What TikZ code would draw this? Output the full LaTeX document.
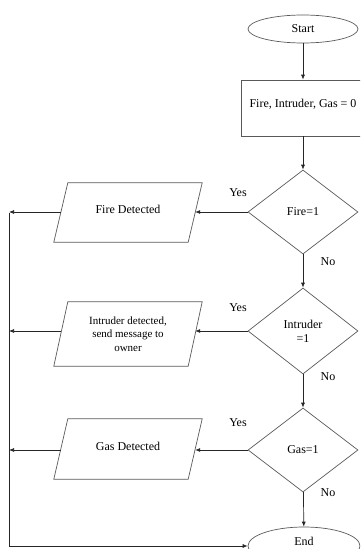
\documentclass[tikz,border=0pt]{standalone}
\usepackage{fontspec}
\setmainfont{Liberation Serif}
\usetikzlibrary{shapes.geometric,arrows.meta,calc}
\begin{document}
\begin{tikzpicture}[x=1pt,y=-1pt,
  font=\fontsize{12}{14}\selectfont,
  shp/.style={draw=black!65,line width=0.7pt},
  term/.style={shp,ellipse,inner sep=0pt},
  dec/.style={shp,diamond,inner sep=0pt,minimum width=110pt,minimum height=84pt,shape aspect=1.31,align=center},
  proc/.style={shp,rectangle,inner sep=0pt},
  io/.style={rectangle,inner sep=0pt,minimum width=134pt,align=center},
  arr/.style={draw=black!85,line width=0.7pt,-{Latex[length=5pt,width=4pt]}},
  lbl/.style={inner sep=0pt}]
\useasboundingbox (0,0) rectangle (360,549);
\clip (0,0) rectangle (360,549);

\node[term,minimum width=110pt,minimum height=28pt] (start) at (303,29) {Start};
\node[proc,minimum width=124pt,minimum height=56pt,text depth=10pt] (init) at (303,108) {Fire, Intruder, Gas = 0};
\node[dec] (fire) at (303,212) {Fire=1};
\node[dec,minimum height=86pt] (intr) at (303,331) {Intruder\\=1};
\node[dec] (gas) at (303,450) {Gas=1};
\node[term,minimum width=112pt,minimum height=38pt,text depth=9pt] (end) at (304,546) {End};

\node[io,minimum height=59pt,text depth=6pt] (fd) at (128,212.5) {Fire Detected};
\node[io,minimum height=64pt,font=\fontsize{11}{13.5}\selectfont] (id) at (128,334) {Intruder detected,\\send message to\\owner};
\node[io,minimum height=60pt,text depth=6pt] (gd) at (128,449) {Gas Detected};

\foreach \n in {fd,id,gd}
  \draw[shp] ([xshift=7pt]\n.north west) -- ([xshift=7pt]\n.north east)
    -- ([xshift=-7pt]\n.south east) -- ([xshift=-7pt]\n.south west) -- cycle;

\coordinate (rail) at (9,212.5);

\node[lbl] (y1) at (238,193) {Yes};
\node[lbl] (y2) at (238,308) {Yes};
\node[lbl] (y3) at (238,423) {Yes};
\node[lbl] (n1) at (328,262) {No};
\node[lbl] (n2) at (328,377) {No};
\node[lbl] (n3) at (328,493) {No};

\draw[arr] (start) -- (init);
\draw[arr] (init) -- (fire);
\draw[arr] (fire) -- (intr);
\draw[arr] (intr) -- (gas);
\draw[arr] (gas) -- (end);

\draw[arr] (fire.west) -- (fire.west -| fd.east);
\draw[arr] (intr.west) -- (intr.west -| id.east);
\draw[arr] (gas.west) -- (gas.west -| gd.east);

\draw[arr] (fire.west -| fd.west) -- (fire.west -| rail);
\draw[arr] (intr.west -| id.west) -- (intr.west -| rail);
\draw[arr] (gas.west -| gd.west) -- (gas.west -| rail);

\draw[arr] (rail) -- (rail |- end.west) -- (end.west);
\end{tikzpicture}
\end{document}
